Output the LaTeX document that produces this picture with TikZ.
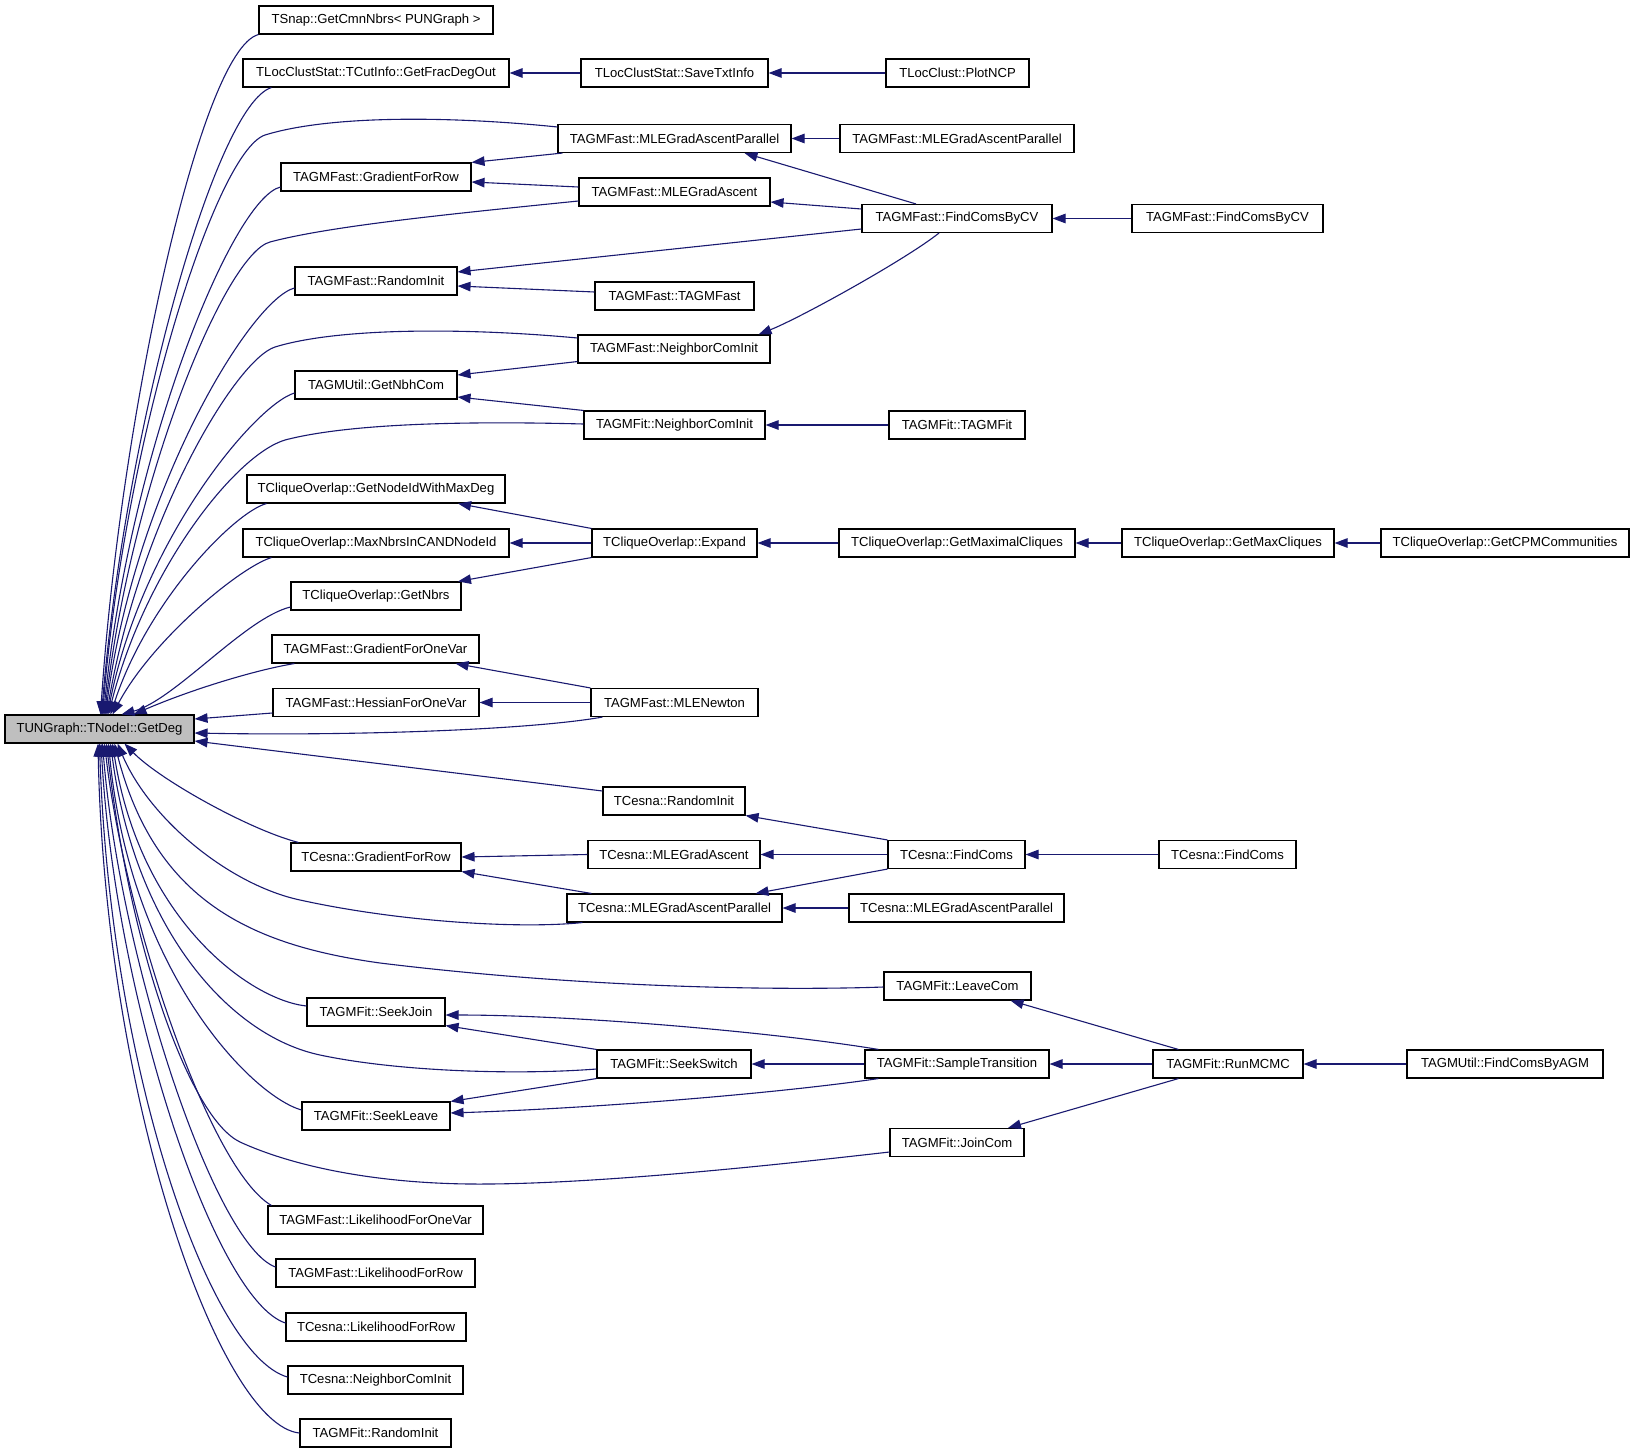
\documentclass[tikz,border=0pt]{standalone}
\usepackage{fontspec}
\setmainfont{Liberation Sans}
\usetikzlibrary{arrows.meta,calc}
\definecolor{edgecol}{HTML}{191970}
\definecolor{mainfill}{HTML}{BFBFBF}
\begin{document}
\begin{tikzpicture}[x=1pt,y=-1pt,
  box/.style={draw=black, line width=1.1pt, fill=white, minimum height=28pt, inner sep=0pt,
    font=\fontsize{13.1}{15}\selectfont},
  edge/.style={draw=edgecol, line width=1.1pt, -{Triangle[length=13pt,width=9.5pt]}}]
\fill[white] (0,0) rectangle (1635,1453);
\useasboundingbox (0,0) rectangle (1635,1453);

% ---------------- nodes ----------------
\node[box,fill=mainfill,minimum width=189pt] (G) at (99.5,729) {TUNGraph::TNodeI::GetDeg};

\node[box,minimum width=234pt] (TSnap) at (376,20) {TSnap::GetCmnNbrs\textless{} PUNGraph \textgreater};
\node[box,minimum width=266pt] (FracDeg) at (376,73) {TLocClustStat::TCutInfo::GetFracDegOut};
\node[box,minimum width=187pt] (SaveTxt) at (674.5,73) {TLocClustStat::SaveTxtInfo};
\node[box,minimum width=143pt] (PlotNCP) at (957.5,73) {TLocClust::PlotNCP};

\node[box,minimum width=233pt] (FMLEPar2) at (674.5,138.5) {TAGMFast::MLEGradAscentParallel};
\node[box,minimum width=234pt] (FMLEPar3) at (957,138.5) {TAGMFast::MLEGradAscentParallel};
\node[box,minimum width=190pt] (FGradRow) at (376,177) {TAGMFast::GradientForRow};
\node[box,minimum width=191pt] (FMLEGA) at (674.5,192) {TAGMFast::MLEGradAscent};
\node[box,minimum width=190pt] (FCV3) at (957,218.5) {TAGMFast::FindComsByCV};
\node[box,minimum width=191pt] (FCV4) at (1227.5,218.5) {TAGMFast::FindComsByCV};
\node[box,minimum width=162pt] (FRandInit) at (376,281) {TAGMFast::RandomInit};
\node[box,minimum width=159pt] (FTAGMFast) at (674.5,296) {TAGMFast::TAGMFast};
\node[box,minimum width=192pt] (FNeighbor) at (674,349) {TAGMFast::NeighborComInit};
\node[box,minimum width=162pt] (UGetNbh) at (376,385) {TAGMUtil::GetNbhCom};
\node[box,minimum width=181pt] (FitNeighbor) at (674.5,425) {TAGMFit::NeighborComInit};
\node[box,minimum width=136pt] (FitTAGMFit) at (957,425) {TAGMFit::TAGMFit};

\node[box,minimum width=258pt] (CNodeIdMax) at (376,489) {TCliqueOverlap::GetNodeIdWithMaxDeg};
\node[box,minimum width=266pt] (CMaxNbrs) at (376,543) {TCliqueOverlap::MaxNbrsInCANDNodeId};
\node[box,minimum width=165pt] (CExpand) at (674.5,543) {TCliqueOverlap::Expand};
\node[box,minimum width=236pt] (CMaximal) at (957,543) {TCliqueOverlap::GetMaximalCliques};
\node[box,minimum width=212pt] (CMaxCliques) at (1228,543) {TCliqueOverlap::GetMaxCliques};
\node[box,minimum width=248pt] (CCPM) at (1505,543) {TCliqueOverlap::GetCPMCommunities};
\node[box,minimum width=170pt] (CGetNbrs) at (376,596) {TCliqueOverlap::GetNbrs};

\node[box,minimum width=207pt] (FGradOne) at (375.5,649) {TAGMFast::GradientForOneVar};
\node[box,minimum width=206pt] (FHessOne) at (376,702.5) {TAGMFast::HessianForOneVar};
\node[box,minimum width=167pt] (FNewton) at (674.5,702.5) {TAGMFast::MLENewton};

\node[box,minimum width=142pt] (CeRandInit) at (674,801) {TCesna::RandomInit};
\node[box,minimum width=170pt] (CeGradRow) at (376,857) {TCesna::GradientForRow};
\node[box,minimum width=172pt] (CeMLEGA) at (674,854.5) {TCesna::MLEGradAscent};
\node[box,minimum width=137pt] (CeFind3) at (956.5,854.5) {TCesna::FindComs};
\node[box,minimum width=137pt] (CeFind4) at (1227.5,854.5) {TCesna::FindComs};
\node[box,minimum width=215pt] (CeMLEPar2) at (674.5,908) {TCesna::MLEGradAscentParallel};
\node[box,minimum width=215pt] (CeMLEPar3) at (956.5,908) {TCesna::MLEGradAscentParallel};

\node[box,minimum width=147pt] (FitLeave) at (957.5,986) {TAGMFit::LeaveCom};
\node[box,minimum width=138pt] (FitSeekJoin) at (376,1012) {TAGMFit::SeekJoin};
\node[box,minimum width=154pt] (FitSeekSwitch) at (674,1064) {TAGMFit::SeekSwitch};
\node[box,minimum width=184pt] (FitSample) at (957,1064) {TAGMFit::SampleTransition};
\node[box,minimum width=150pt] (FitRunMCMC) at (1228,1064) {TAGMFit::RunMCMC};
\node[box,minimum width=196pt] (UFindAGM) at (1505,1064) {TAGMUtil::FindComsByAGM};
\node[box,minimum width=148pt] (FitSeekLeave) at (376,1116) {TAGMFit::SeekLeave};
\node[box,minimum width=134pt] (FitJoinCom) at (957,1142.5) {TAGMFit::JoinCom};

\node[box,minimum width=215pt] (FLikeOne) at (375.5,1220) {TAGMFast::LikelihoodForOneVar};
\node[box,minimum width=199pt] (FLikeRow) at (375.5,1273) {TAGMFast::LikelihoodForRow};
\node[box,minimum width=180pt] (CeLikeRow) at (376,1327) {TCesna::LikelihoodForRow};
\node[box,minimum width=175pt] (CeNeighbor) at (375.5,1380) {TCesna::NeighborComInit};
\node[box,minimum width=151pt] (FitRandInit) at (375.5,1433) {TAGMFit::RandomInit};

% ---------------- edges into GetDeg (from above) ----------------
\draw[edge] (TSnap.south west) .. controls (200,50) and (120,420) .. ($(G.north)+(1,0)$);
\draw[edge] ($(FracDeg.south west)+(29,0)$) .. controls (215,105) and (125,430) .. ($(G.north)+(2,0)$);
\draw[edge] ($(FMLEPar2.west)+(0,-11.5)$) .. controls (450,116) and (330,115) .. (265,135)
   .. controls (215,152) and (125,440) .. ($(G.north)+(3,0)$);
\draw[edge] ($(FGradRow.west)+(0,10)$) .. controls (232,199) and (130,450) .. ($(G.north)+(4,0)$);
\draw[edge] ($(FMLEGA.west)+(0,9)$) .. controls (450,214) and (330,226) .. (270,242)
   .. controls (225,254) and (132,480) .. ($(G.north)+(5,0)$);
\draw[edge] ($(FRandInit.west)+(0,7)$) .. controls (250,300) and (135,490) .. ($(G.north)+(6,0)$);
\draw[edge] ($(FNeighbor.west)+(0,-11)$) .. controls (470,328) and (340,327) .. (275,347)
   .. controls (235,360) and (140,520) .. ($(G.north)+(7,0)$);
\draw[edge] ($(UGetNbh.west)+(0,8)$) .. controls (255,405) and (142,540) .. ($(G.north)+(8,0)$);
\draw[edge] ($(FitNeighbor.west)+(0,-1)$) .. controls (470,421) and (350,423) .. (285,440)
   .. controls (235,455) and (145,570) .. ($(G.north)+(9,0)$);
\draw[edge] ($(CNodeIdMax.south west)+(20,0)$) .. controls (235,512) and (148,600) .. ($(G.north)+(11,0)$);
\draw[edge] ($(CMaxNbrs.south west)+(29,0)$) .. controls (240,567) and (152,640) .. ($(G.north)+(13,0)$);
\draw[edge] ($(CGetNbrs.west)+(0,11)$) .. controls (245,618) and (175,700) .. ($(G.north)+(22,0)$);
\draw[edge] ($(FGradOne.south west)+(23,0)$) .. controls (255,670) and (190,690) .. ($(G.north)+(34,0)$);

% ---------------- edges into GetDeg (right side) ----------------
\draw[edge] ($(FHessOne.west)+(0,10.5)$) -- ($(G.east)+(0,-10)$);
\draw[edge] ($(FNewton.south west)+(12,0)$) .. controls (530,730) and (350,736) .. ($(G.east)+(0,4)$);
\draw[edge] ($(CeRandInit.west)+(0,-10)$) -- ($(G.east)+(0,12)$);

% ---------------- edges into GetDeg (from below) ----------------
\draw[edge] ($(CeGradRow.north west)+(8,0)$) .. controls (250,830) and (160,780) .. ($(G.south)+(25,0)$);
\draw[edge] ($(CeMLEPar2.south west)+(16,0)$) .. controls (520,929) and (400,922) .. (300,900)
   .. controls (230,885) and (150,820) .. ($(G.south)+(18,0)$);
\draw[edge] ($(FitLeave.west)+(0,1)$) .. controls (800,990) and (600,990) .. (380,963)
   .. controls (250,945) and (155,900) .. ($(G.south)+(15,0)$);
\draw[edge] ($(FitSeekJoin.west)+(0,-6)$) .. controls (250,1000) and (140,920) .. ($(G.south)+(13,0)$);
\draw[edge] ($(FitSeekSwitch.west)+(0,5)$) .. controls (520,1075) and (400,1072) .. (320,1055)
   .. controls (230,1036) and (135,930) .. ($(G.south)+(11,0)$);
\draw[edge] ($(FitSeekLeave.west)+(0,-6)$) .. controls (250,1095) and (130,970) .. ($(G.south)+(9,0)$);
\draw[edge] ($(FitJoinCom.west)+(0,9.5)$) .. controls (750,1168) and (580,1185) .. (470,1184)
   .. controls (370,1183) and (290,1165) .. (240,1142)
   .. controls (190,1118) and (130,950) .. ($(G.south)+(7,0)$);
\draw[edge] ($(FLikeOne.north west)+(4,0)$) .. controls (210,1170) and (125,920) .. ($(G.south)+(5,0)$);
\draw[edge] ($(FLikeRow.west)+(0,-6)$) .. controls (215,1245) and (120,960) .. ($(G.south)+(3,0)$);
\draw[edge] ($(CeLikeRow.west)+(0,-4)$) .. controls (215,1300) and (115,1000) .. ($(G.south)+(1.5,0)$);
\draw[edge] ($(CeNeighbor.west)+(0,-3)$) .. controls (210,1355) and (110,1070) .. (G.south);
\draw[edge] (FitRandInit.west) .. controls (220,1425) and (105,1100) .. ($(G.south)+(-1.5,0)$);

% ---------------- other edges ----------------
\draw[edge] (SaveTxt.west) -- (FracDeg.east);
\draw[edge] (PlotNCP.west) -- (SaveTxt.east);
\draw[edge] (FMLEPar3.west) -- (FMLEPar2.east);
\draw[edge] ($(FCV3.north)+(-41,0)$) -- ($(FMLEPar2.south)+(70,0)$);
\draw[edge] ($(FMLEPar2.south west)+(5,0)$) -- (FGradRow.north east);
\draw[edge] ($(FMLEGA.west)+(0,-5)$) -- ($(FGradRow.east)+(0,5)$);
\draw[edge] ($(FCV3.west)+(0,-9.5)$) -- ($(FMLEGA.east)+(0,10)$);
\draw[edge] ($(FCV3.west)+(0,10.5)$) -- ($(FRandInit.east)+(0,-9)$);
\draw[edge] ($(FTAGMFast.west)+(0,-4)$) -- ($(FRandInit.east)+(0,5)$);
\draw[edge] ($(FCV3.south)+(-18,0)$) .. controls (905,260) and (800,318) .. ($(FNeighbor.north east)+(-12,0)$);
\draw[edge] (FCV4.west) -- (FCV3.east);
\draw[edge] ($(FNeighbor.south west)+(0,-2)$) -- ($(UGetNbh.east)+(0,-10)$);
\draw[edge] (FitNeighbor.north west) -- ($(UGetNbh.east)+(0,12)$);
\draw[edge] (FitTAGMFit.west) -- (FitNeighbor.east);

\draw[edge] (CExpand.north west) -- ($(CNodeIdMax.south)+(82,0)$);
\draw[edge] (CExpand.west) -- (CMaxNbrs.east);
\draw[edge] (CExpand.south west) -- ($(CGetNbrs.north)+(82,0)$);
\draw[edge] (CMaximal.west) -- (CExpand.east);
\draw[edge] (CMaxCliques.west) -- (CMaximal.east);
\draw[edge] (CCPM.west) -- (CMaxCliques.east);

\draw[edge] (FNewton.north west) -- ($(FGradOne.south)+(80,0)$);
\draw[edge] (FNewton.west) -- (FHessOne.east);

\draw[edge] (CeFind3.north west) -- (CeRandInit.south east);
\draw[edge] (CeMLEGA.west) -- (CeGradRow.east);
\draw[edge] ($(CeMLEPar2.north west)+(25,0)$) -- (CeGradRow.south east);
\draw[edge] (CeFind3.west) -- (CeMLEGA.east);
\draw[edge] (CeFind3.south west) -- ($(CeMLEPar2.north east)+(-27,0)$);
\draw[edge] (CeMLEPar3.west) -- (CeMLEPar2.east);
\draw[edge] (CeFind4.west) -- (CeFind3.east);

\draw[edge] ($(FitRunMCMC.north west)+(26,0)$) -- ($(FitLeave.south)+(53,0)$);
\draw[edge] ($(FitSample.north west)+(14,0)$) .. controls (780,1033) and (580,1015) .. ($(FitSeekJoin.east)+(0,3)$);
\draw[edge] (FitSeekSwitch.north west) -- ($(FitSeekJoin.south east)+(0,-1)$);
\draw[edge] (FitSample.west) -- (FitSeekSwitch.east);
\draw[edge] (FitSeekSwitch.south west) -- (FitSeekLeave.north east);
\draw[edge] ($(FitSample.south west)+(14,0)$) .. controls (780,1093) and (600,1108) .. ($(FitSeekLeave.east)+(0,-3)$);
\draw[edge] (FitRunMCMC.west) -- (FitSample.east);
\draw[edge] ($(FitRunMCMC.south west)+(26,0)$) -- ($(FitJoinCom.north)+(51,0)$);
\draw[edge] (UFindAGM.west) -- (FitRunMCMC.east);
\end{tikzpicture}
\end{document}
